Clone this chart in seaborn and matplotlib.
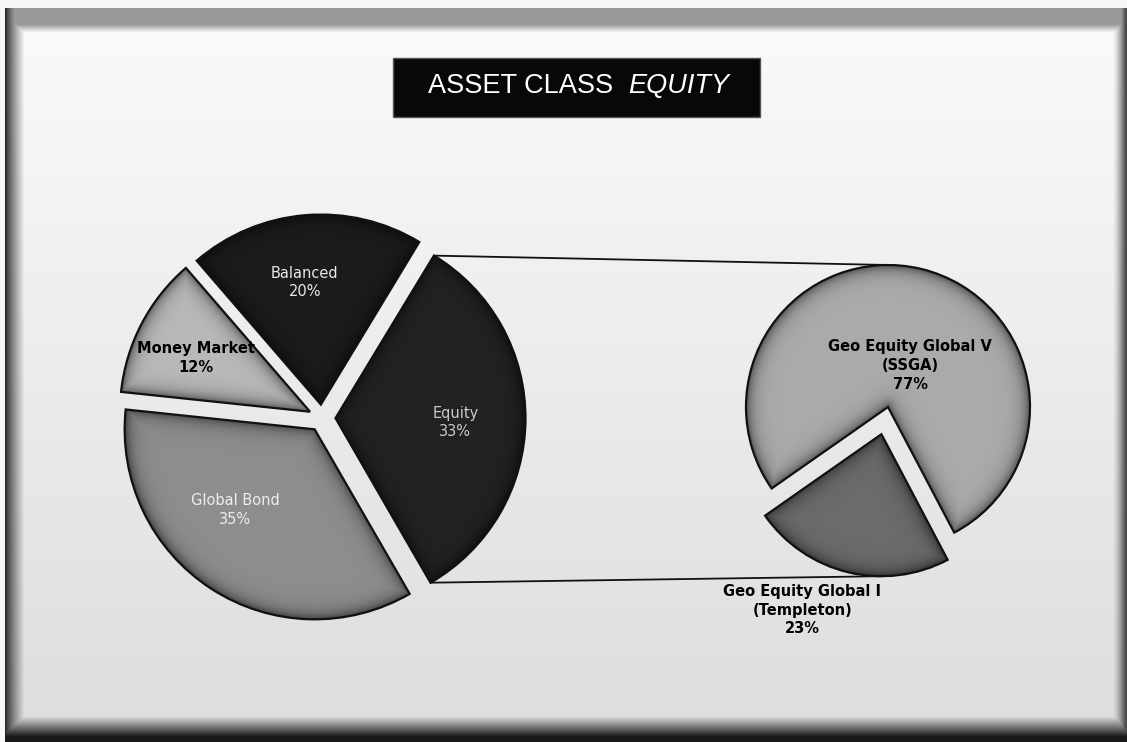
import numpy as np
import matplotlib
matplotlib.use("Agg")
import matplotlib.pyplot as plt
import seaborn as sns
from matplotlib.patches import Rectangle, Wedge

# ---------------- data ----------------
main_labels = ["Equity", "Balanced", "Money Market", "Global Bond"]
main_values = [33, 20, 12, 35]
sub_labels = ["Geo Equity Global I\n(Templeton)", "Geo Equity Global V\n(SSGA)"]
sub_values = [23, 77]
title_plain = "ASSET CLASS"
title_italic = "EQUITY"

# ---------------- style ----------------
sns.set_theme(style="white")
plt.rcParams['font.family'] = ['DejaVu Sans']
main_colors = sns.color_palette(["#222222", "#1b1b1b", "#b9b9b9", "#8d8d8d"])
sub_colors = sns.color_palette(["#6b6b6b", "#aaaaaa"])
main_text_colors = ["#c9c9c9", "#e8e8e8", "#000000", "#ededed"]
main_text_weight = ["normal", "normal", "bold", "normal"]

W, H = 1127, 742
fig = plt.figure(figsize=(W / 100, H / 100), dpi=100)

# ---------------- framed background ----------------
bg = fig.add_axes([0, 0, 1, 1])
bg.set_axis_off()
yy, xx = np.mgrid[0:H, 0:W].astype(float)
base = 0.985 - 0.12 * (yy / H)
img = base.copy()
top = (yy >= 8) & (yy < 32) & (xx >= 5)
img = np.where(top, np.minimum(img, 0.6 + (base - 0.6) * np.clip((yy - 24) / 8, 0, 1)), img)
left = (xx >= 5) & (xx < 24) & (yy >= 8)
img = np.where(left, np.minimum(img, 0.15 + (base - 0.15) * ((xx - 5) / 19) ** 0.8), img)
right = (xx >= 1112) & (yy >= 8)
img = np.where(right, np.minimum(img, base - (base - 0.3) * np.clip((xx - 1112) / 13, 0, 1) ** 1.5), img)
bottom = (yy >= 716) & (xx >= 5)
img = np.where(bottom, np.minimum(img, base - (base - 0.1) * np.clip((yy - 716) / 20, 0, 1)), img)
img = np.where((xx < 5) | (yy < 8), 0.97, img)
bg.imshow(np.dstack([img] * 3), extent=(0, W, H, 0), aspect='auto', interpolation='bilinear')
bg.set_xlim(0, W)
bg.set_ylim(H, 0)

# ---------------- main axes (pixel units, y up) ----------------
ax = fig.add_axes([0, 0, 1, 1])
ax.patch.set_alpha(0)
ax.set_axis_off()


def Y(p):
    return H - p


def bevel(w, strength=0.5, width=7.0):
    cx, cy = w.center
    r = w.r
    n = int(2 * r) + 1
    gx, gy = np.meshgrid(np.linspace(cx - r, cx + r, n), np.linspace(cy - r, cy + r, n))
    dx, dy = gx - cx, gy - cy
    rho = np.hypot(dx, dy)
    d = r - rho
    for th in (w.theta1, w.theta2):
        ux, uy = np.cos(np.radians(th)), np.sin(np.radians(th))
        proj = dx * ux + dy * uy
        perp = np.abs(dx * uy - dy * ux)
        d = np.minimum(d, np.where(proj > 0, perp, rho))
    rgba = np.zeros((n, n, 4))
    rgba[..., 3] = strength * np.exp(-np.clip(d, 0, None) / width)
    im = ax.imshow(rgba, extent=(cx - r, cx + r, cy - r, cy + r), origin='lower',
                   zorder=2, interpolation='bilinear')
    im.set_clip_path(w)
    ax.add_patch(Wedge(w.center, r, w.theta1, w.theta2, fc='none', ec='#111111',
                       lw=1.6, zorder=3))


# main pie
c1 = (322, Y(418))
r1 = 190
wedges1, _ = ax.pie(main_values, colors=main_colors, startangle=-60, counterclock=True,
                    radius=r1, center=c1, explode=[13.5] * 4, frame=True,
                    wedgeprops=dict(linewidth=0, zorder=1))
for w in wedges1:
    bevel(w)

# second pie
c2 = (888, Y(407))
r2 = 142
wedges2, _ = ax.pie(sub_values, colors=sub_colors, startangle=215, counterclock=True,
                    radius=r2, center=c2, explode=[28, 0], frame=True,
                    wedgeprops=dict(linewidth=0, zorder=1))
for w in wedges2:
    bevel(w)

# connector lines (from the Equity slice edges to the second pie)
eq = wedges1[0]
ex, ey = eq.center
p_top = (ex + r1 * np.cos(np.radians(eq.theta2)), ey + r1 * np.sin(np.radians(eq.theta2)))
p_bot = (ex + r1 * np.cos(np.radians(eq.theta1)), ey + r1 * np.sin(np.radians(eq.theta1)))
tw = wedges2[0]
q_top = (c2[0], c2[1] + r2)
q_bot = (tw.center[0], tw.center[1] - r2)
ax.plot([p_top[0], q_top[0]], [p_top[1], q_top[1]], color='#111111', lw=1.3, zorder=0.5)
ax.plot([p_bot[0], q_bot[0]], [p_bot[1], q_bot[1]], color='#111111', lw=1.3, zorder=0.5)

# main labels: (angle offset from slice middle, distance from slice vertex)
main_label_pos = [(-1.4, 120), (2.7, 123), (2.4, 126), (-11.6, 113)]
for w, lab, val, col, wt, (da, dist) in zip(wedges1, main_labels, main_values,
                                           main_text_colors, main_text_weight, main_label_pos):
    a = np.radians(0.5 * (w.theta1 + w.theta2) + da)
    x = w.center[0] + dist * np.cos(a)
    y = w.center[1] + dist * np.sin(a)
    ax.text(x, y, f"{lab}\n{val}%", ha='center', va='center', color=col, fontsize=10.5,
            fontweight=wt, linespacing=1.3, zorder=5)

# second pie labels
sub_label_pos = [(-10.6, 193), (-14.6, 47)]
for w, lab, val, (da, dist) in zip(wedges2, sub_labels, sub_values, sub_label_pos):
    a = np.radians(0.5 * (w.theta1 + w.theta2) + da)
    x = w.center[0] + dist * np.cos(a)
    y = w.center[1] + dist * np.sin(a)
    ax.text(x, y, f"{lab}\n{val}%", ha='center', va='center', color='#000000', fontsize=10.5,
            fontweight='bold', linespacing=1.3, zorder=5)

# title box
ax.add_patch(Rectangle((393, Y(117)), 367, 59, facecolor='#080808', edgecolor='#555555',
                       lw=1, zorder=4))
ax.text(613, Y(93), title_plain, ha='right', va='baseline', color='white', fontsize=19.5,
        family='Liberation Sans', zorder=5)
ax.text(628, Y(93), title_italic, ha='left', va='baseline', color='white', fontsize=19.5,
        family='Liberation Sans', style='italic', zorder=5)

ax.set_xlim(0, W)
ax.set_ylim(0, H)
ax.set_aspect('auto')

fig.savefig("out.png", dpi=100)
